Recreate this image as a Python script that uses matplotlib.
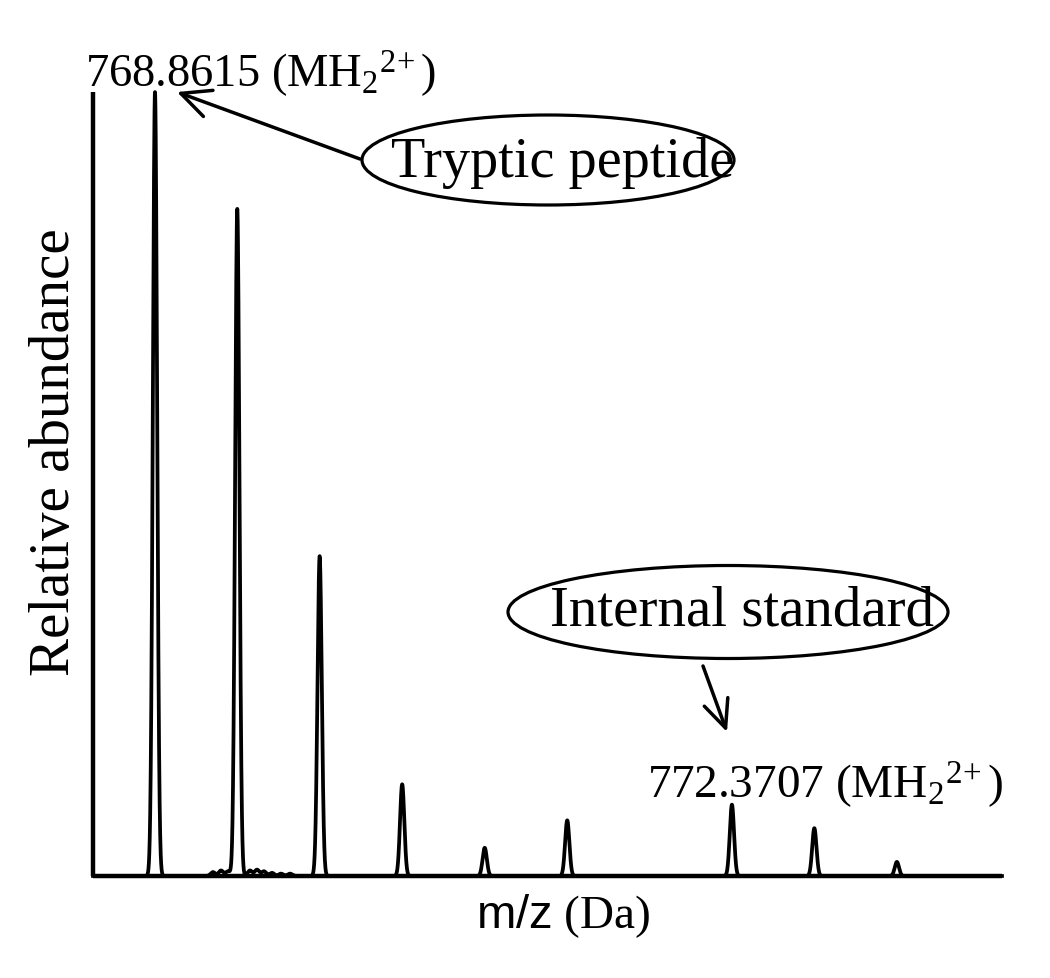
import numpy as np
import matplotlib
matplotlib.use("Agg")
import matplotlib.pyplot as plt
from matplotlib.patches import Ellipse

# isotope peaks (m/z, relative abundance)
peak_mz = [768.8615, 769.362, 769.863, 770.365, 770.867, 771.369, 772.3707, 772.872, 773.374]
peak_int = [1.0, 0.851, 0.408, 0.117, 0.036, 0.071, 0.091, 0.061, 0.018]

# small noise bumps around the second peak
noise_mz = [769.214, 769.263, 769.306, 769.439, 769.482, 769.524, 769.573, 769.628, 769.683]
noise_int = [0.005, 0.007, 0.006, 0.007, 0.008, 0.006, 0.004, 0.003, 0.003]

mz_range = [768.4844, 774.0135]
peak_sigma = 0.013
noise_sigma = 0.014

label_top = r"768.8615 (MH$_2{}^{2\!+}$)"
label_low = r"772.3707 (MH$_2{}^{2\!+}$)"

plt.rcParams["font.family"] = ["Liberation Serif", "DejaVu Serif"]
plt.rcParams["mathtext.fontset"] = "custom"
plt.rcParams["mathtext.rm"] = "Liberation Serif"
plt.rcParams["mathtext.it"] = "Liberation Serif:italic"
plt.rcParams["mathtext.sf"] = "Liberation Sans"


def fx(px):
    return px / 1050


def fy(py):
    return 1 - py / 979


def main():
    # build profile spectrum from the peak list
    x = np.linspace(mz_range[0], mz_range[1], 12000)
    y = np.zeros_like(x)
    for m, h in zip(peak_mz, peak_int):
        y += h * np.exp(-(x - m) ** 2 / (2 * peak_sigma ** 2))
    for m, h in zip(noise_mz, noise_int):
        y += h * np.exp(-(x - m) ** 2 / (2 * noise_sigma ** 2))

    fig = plt.figure(figsize=(10.5, 9.79), dpi=100)
    ax = fig.add_axes([fx(93), fy(877), fx(1002) - fx(93), fy(93) - fy(877)])
    ax.plot(x, y, color="black", lw=2.7, clip_on=False, zorder=3)
    ax.set_xlim(mz_range)
    ax.set_ylim(0, 1.0)
    ax.set_xticks([])
    ax.set_yticks([])
    for s in ["top", "right"]:
        ax.spines[s].set_visible(False)
    for s in ["left", "bottom"]:
        ax.spines[s].set_linewidth(3.2)
        ax.spines[s].set_capstyle("butt")

    # axis labels
    fig.text(fx(55), fy(452), "Relative abundance", rotation=90, fontsize=41,
             ha="center", va="center")
    fig.text(fx(563), fy(928), r"$\mathsf{m/z}$ (Da)", fontsize=34,
             ha="center", va="baseline")

    # peak labels
    fig.text(fx(85), fy(87), label_top, fontsize=33.5, ha="left", va="baseline")
    fig.text(fx(1003), fy(798), label_low, fontsize=34, ha="right", va="baseline")

    # callouts
    fig.text(fx(563), fy(177), "Tryptic peptide", fontsize=40.5, ha="center", va="baseline")
    fig.add_artist(Ellipse((fx(548), fy(161)), fx(372), 90 / 979,
                           transform=fig.transFigure, fill=False, lw=2.3, color="black"))
    fig.text(fx(742), fy(625), "Internal standard", fontsize=41, ha="center", va="baseline")
    fig.add_artist(Ellipse((fx(728), fy(613)), fx(440), 93 / 979,
                           transform=fig.transFigure, fill=False, lw=2.3, color="black"))

    ax.annotate("", xy=(fx(177), fy(93)), xycoords="figure fraction",
                xytext=(fx(360), fy(160)), textcoords="figure fraction",
                arrowprops=dict(arrowstyle="->,head_length=2.1,head_width=1.0",
                                lw=2.5, color="black", shrinkA=0, shrinkB=0))
    ax.annotate("", xy=(fx(727), fy(733)), xycoords="figure fraction",
                xytext=(fx(703), fy(667)), textcoords="figure fraction",
                arrowprops=dict(arrowstyle="->,head_length=2.0,head_width=0.9",
                                lw=2.5, color="black", shrinkA=0, shrinkB=0))

    fig.savefig("out.png", dpi=100)


if __name__ == "__main__":
    main()
